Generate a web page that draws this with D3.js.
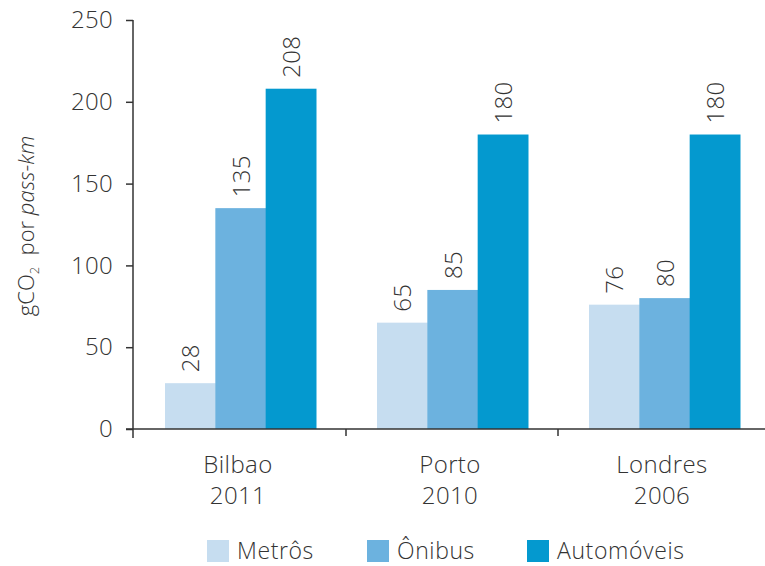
<!DOCTYPE html>
<html><head><meta charset="utf-8">
<script src="https://cdn.jsdelivr.net/npm/d3@7"></script>
<style>
body{margin:0;background:#fff;}
svg{display:block;font-family:"Open Sans","Lato",sans-serif;font-weight:300;}
</style></head>
<body><svg id="c" width="765" height="566"></svg>
<script>
const cities = ["Bilbao", "Porto", "Londres"];
const years = ["2011", "2010", "2006"];
const series = ["Metrôs", "Ônibus", "Automóveis"];
const metros = [28, 65, 76];
const onibus = [135, 85, 80];
const automoveis = [208, 180, 180];
const yTicks = [0, 50, 100, 150, 200, 250];
const colors = ["#c6ddf0", "#6cb2df", "#0499cf"];

const values = [metros, onibus, automoveis];
const svg = d3.select("#c");
const txt = "#333";

const y = d3.scaleLinear().domain([0, 250]).range([429, 20]);
const x0 = d3.scaleBand().domain(cities).range([134, 770]).paddingInner(0).paddingOuter(0);
const x1 = d3.scaleBand().domain(series).range([31, 182]).padding(0);

// bars
cities.forEach((c, i) => {
  series.forEach((s, j) => {
    const v = values[j][i];
    const bx = x0(c) + x1(s);
    svg.append("rect")
      .attr("x", bx).attr("y", y(v))
      .attr("width", x1.bandwidth() + 0.5).attr("height", y(0) - y(v))
      .attr("fill", colors[j]);
    const cx = bx + x1.bandwidth() / 2;
    svg.append("text")
      .attr("transform", `translate(${cx + 9},${y(v) - 11}) rotate(-90)`)
      .attr("font-size", 24).attr("fill", txt).attr("letter-spacing", 0.3)
      .text(v);
  });
});

// y axis
const yAxis = svg.append("g").attr("transform", "translate(133,0)")
  .call(d3.axisLeft(y).tickValues(yTicks).tickSize(7).tickSizeOuter(0).tickPadding(13));
yAxis.select(".domain").remove();
yAxis.selectAll(".tick line").attr("stroke", "#333").attr("stroke-width", 1.5);
yAxis.selectAll(".tick text").attr("font-size", 24).attr("fill", txt)
  .attr("font-family", "Open Sans, sans-serif").attr("font-weight", 300).attr("letter-spacing", 0.3);
svg.append("line").attr("x1", 133).attr("x2", 133).attr("y1", y(250)).attr("y2", 438)
  .attr("stroke", "#333").attr("stroke-width", 1.5);

// x axis
svg.append("line").attr("x1", 126).attr("x2", 765).attr("y1", y(0)).attr("y2", y(0))
  .attr("stroke", "#333").attr("stroke-width", 1.5);
cities.slice(1).forEach(c => {
  svg.append("line").attr("x1", x0(c)).attr("x2", x0(c)).attr("y1", y(0)).attr("y2", y(0) + 7)
    .attr("stroke", "#333").attr("stroke-width", 1.5);
});
cities.forEach((c, i) => {
  const cx = x0(c) + x0.bandwidth() / 2 - 2;
  const t = svg.append("text").attr("text-anchor", "middle").attr("font-size", 24).attr("fill", txt)
    .attr("letter-spacing", 0.4);
  t.append("tspan").attr("x", cx).attr("y", 473).text(c);
  t.append("tspan").attr("x", cx).attr("y", 504).text(years[i]);
});

// y label
const yl = svg.append("text")
  .attr("transform", "translate(34,226) rotate(-90)")
  .attr("text-anchor", "middle").attr("font-size", 22).attr("fill", txt).attr("xml:space", "preserve");
yl.append("tspan").text("gCO");
yl.append("tspan").attr("font-size", 13).attr("dy", 5).text("2");
yl.append("tspan").attr("dy", -5).text("  por ");
yl.append("tspan").attr("font-style", "italic").text("pass-km");

// legend
const legX = [207, 367, 527];
series.forEach((s, j) => {
  svg.append("rect").attr("x", legX[j]).attr("y", 540).attr("width", 22).attr("height", 22).attr("fill", colors[j]);
  svg.append("text").attr("x", legX[j] + 30).attr("y", 559).attr("font-size", 23).attr("fill", txt)
    .attr("letter-spacing", 0.6).text(s);
});
</script></body></html>
